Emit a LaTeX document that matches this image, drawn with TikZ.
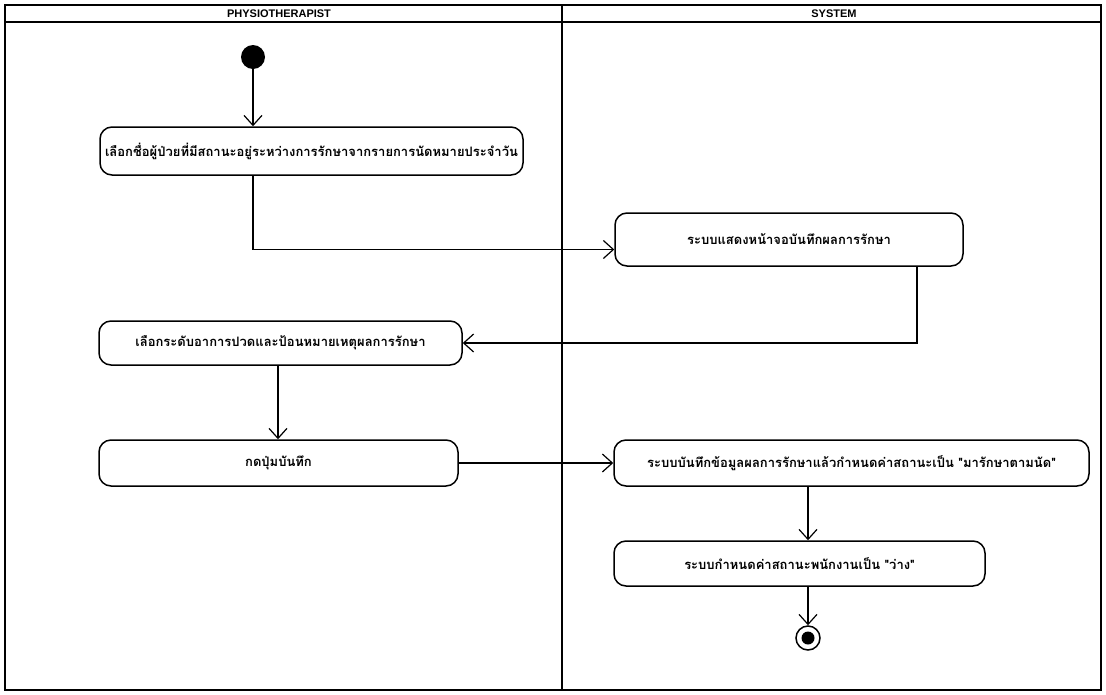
\documentclass[tikz,border=0pt]{standalone}
\usepackage{fontspec}
\setmainfont{Liberation Sans}
\newfontfamily\thai[Script=Thai]{Loma}
\usetikzlibrary{arrows.meta,calc}
\begin{document}
\begin{tikzpicture}[x=1pt,y=-1pt,
  action/.style={draw, rounded corners=12pt, line width=1.5pt, inner sep=0pt,
    font=\thai\bfseries\fontsize{13}{15}\selectfont},
  flow/.style={line width=1.2pt, -{Straight Barb[length=10pt,width=18pt,line width=1.2pt]}},
  lane/.style={line width=2pt},
  head/.style={font=\bfseries\fontsize{11}{12}\selectfont, inner sep=0pt}
]
\useasboundingbox (0,0) rectangle (1106,694);
% swimlanes
\draw[lane] (5,5) rectangle (1101,690);
\draw[lane] (5,22) -- (1101,22);
\draw[lane] (562,5) -- (562,690);
\node[head] (h1) at (279,14) {PHYSIOTHERAPIST};
\node[head] (h2) at (834,14) {SYSTEM};
% nodes
\node[circle, fill=black, minimum size=24pt, inner sep=0pt] (start) at (253,57) {};
\node[action, minimum width=423pt, minimum height=48pt] (a1) at (311.5,151)
  {เลือกชื่อผู้ป่วยที่มีสถานะอยู่ระหว่างการรักษาจากรายการนัดหมายประจำวัน};
\node[action, minimum width=348pt, minimum height=53pt] (a2) at (789,239.5)
  {ระบบแสดงหน้าจอบันทึกผลการรักษา};
\node[action, minimum width=363pt, minimum height=44pt] (a3) at (280.5,343)
  {เลือกระดับอาการปวดและป้อนหมายเหตุผลการรักษา};
\node[action, minimum width=359pt, minimum height=46pt] (a4) at (278.5,463)
  {กดปุ่มบันทึก};
\node[action, minimum width=475pt, minimum height=46pt] (a5) at (851.5,463)
  {ระบบบันทึกข้อมูลผลการรักษาแล้วกำหนดค่าสถานะเป็น "มารักษาตามนัด"};
\node[action, minimum width=371pt, minimum height=45pt] (a6) at (799.5,563.5)
  {ระบบกำหนดค่าสถานะพนักงานเป็น "ว่าง"};
\node[circle, draw, line width=1.5pt, minimum size=24pt, inner sep=0pt] (end) at (808,638) {};
\node[circle, fill=black, minimum size=13pt, inner sep=0pt] (endin) at (end.center) {};
% connectors
\draw[flow] (start) -- (start |- a1.north);
\draw[flow] (a1.south -| start) |- ([yshift=-10pt]a2.west);
\draw[flow] (a2.south -| 917,0) |- (a3.east);
\draw[flow] (a3.south -| 278,0) -- (a4.north -| 278,0);
\draw[flow] (a4.east) -- (a5.west);
\draw[flow] (a5.south -| end) -- (a6.north -| end);
\draw[flow] (a6.south -| end) -- (end.north);
\end{tikzpicture}
\end{document}
